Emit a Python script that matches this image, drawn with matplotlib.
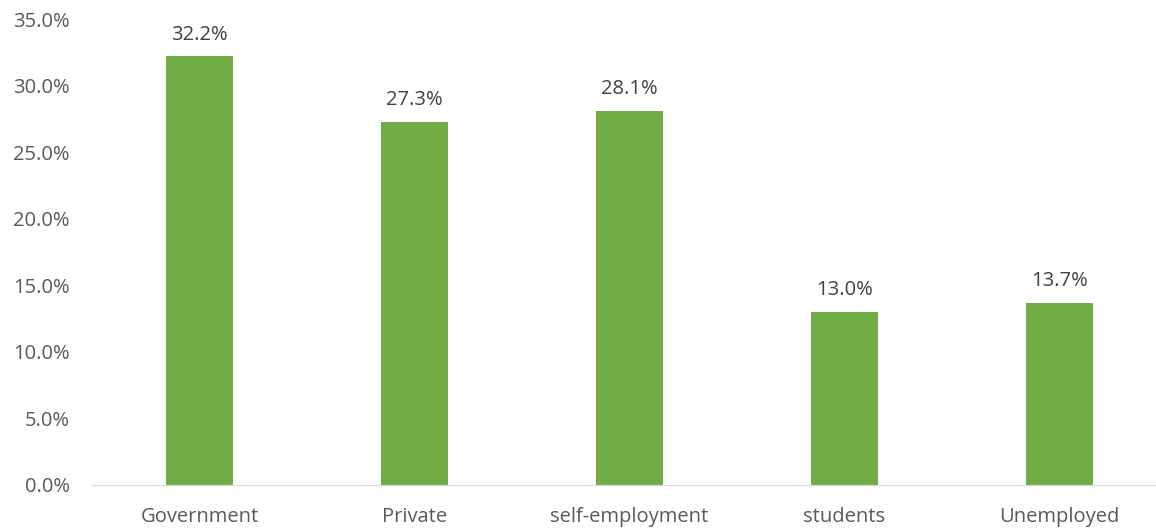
import matplotlib.pyplot as plt
from matplotlib.ticker import FuncFormatter

categories = ['Government', 'Private', 'self-employment', 'students', 'Unemployed']
shares = [32.2, 27.3, 28.1, 13.0, 13.7]

plt.rcParams['font.family'] = ['Open Sans', 'DejaVu Sans']

fig = plt.figure(figsize=(11.56, 5.31), dpi=100)
ax = fig.add_axes([92 / 1156, 46 / 531, 1064 / 1156, 466 / 531])

x = range(len(categories))
bars = ax.bar(x, shares, width=0.31, color='#70AD47')

# подписи значений над столбцами
for b, v in zip(bars, shares):
    ax.text(b.get_x() + b.get_width() / 2, v + 0.88, f'{v:.1f}%',
            ha='center', va='bottom', fontsize=14.5, color='#404040')

ax.set_xlim(-0.5, 4.45)
ax.set_ylim(0, 35)
ax.set_yticks([0, 5, 10, 15, 20, 25, 30, 35])
ax.yaxis.set_major_formatter(FuncFormatter(lambda v, p: f'{v:.1f}%'))
ax.set_xticks(list(x))
ax.set_xticklabels(categories)
ax.tick_params(axis='both', length=0, labelsize=14.5, labelcolor='#595959')
ax.tick_params(axis='x', pad=16)
ax.tick_params(axis='y', pad=16)

for s in ['top', 'right', 'left']:
    ax.spines[s].set_visible(False)
ax.spines['bottom'].set_color('#D9D9D9')

fig.savefig('out.png', dpi=100)
